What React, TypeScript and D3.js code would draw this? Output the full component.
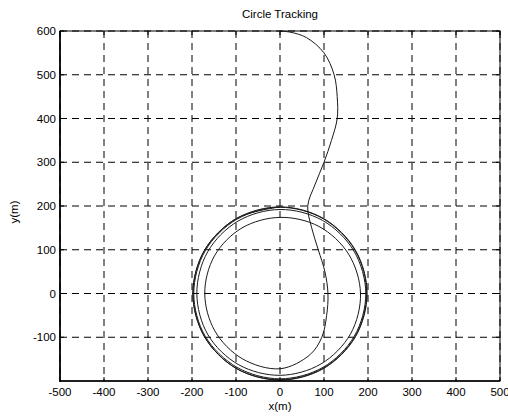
import React, { useEffect, useRef } from "react";
import * as d3 from "d3";

// approach path (metres)
const approachX = [0, 25, 60, 100, 123, 130, 130, 117, 100, 80, 63, 72, 87, 102, 109, 106, 95, 68];
const approachY = [600, 597, 585, 550, 500, 450, 400, 350, 300, 250, 200, 150, 100, 50, 0, -50, -100, -140];

// spiral onto the circle: angle (deg, clockwise from +y) and radius (m)
const spiralAngle = [180, 210, 240, 270, 300, 330, 360, 390, 420, 450, 480, 510, 540, 570, 600, 630, 660, 690, 720, 750, 780, 810, 840, 870, 900, 930, 960, 990, 1020, 1050, 1080, 1110, 1140, 1170, 1200, 1230, 1260, 1290, 1320, 1350, 1380, 1410, 1440, 1470, 1500, 1530, 1560, 1590, 1620, 1650, 1680, 1710, 1740, 1770, 1800];
const spiralRadius = [172, 172, 171, 171, 172, 173, 174, 177, 180, 183, 185, 186, 187, 188, 189, 189, 190, 191, 192, 193, 194, 195, 195, 195, 195, 195, 196, 196, 196, 196, 197, 197, 197, 197, 197, 197, 197, 198, 198, 198, 198, 198, 198, 198, 198, 198, 198, 198, 198, 198, 198, 198, 198, 198, 198];

const xTicks = [-500, -400, -300, -200, -100, 0, 100, 200, 300, 400, 500];
const yTicks = [-100, 0, 100, 200, 300, 400, 500, 600];

const App = () => {
  const ref = useRef<SVGSVGElement>(null);

  useEffect(() => {
    const svg = d3.select(ref.current);
    svg.selectAll("*").remove();

    const left = 60, right = 500, top = 31, bottom = 381;
    const x = d3.scaleLinear().domain([-500, 500]).range([left, right]);
    const y = d3.scaleLinear().domain([-200, 600]).range([bottom, top]);
    const font = "'Liberation Sans', Arial, sans-serif";

    // white plot background
    svg.append("rect").attr("x", left).attr("y", top)
      .attr("width", right - left).attr("height", bottom - top).attr("fill", "#fff");

    // dashed grid
    svg.selectAll(".vgrid").data(xTicks).enter().append("line")
      .attr("x1", (d) => x(d)).attr("x2", (d) => x(d))
      .attr("y1", top).attr("y2", bottom)
      .attr("stroke", "#000").attr("stroke-width", 1)
      .attr("stroke-dasharray", "7,5");
    svg.selectAll(".hgrid").data(yTicks).enter().append("line")
      .attr("y1", (d) => y(d)).attr("y2", (d) => y(d))
      .attr("x1", left).attr("x2", right)
      .attr("stroke", "#000").attr("stroke-width", 1)
      .attr("stroke-dasharray", "7,5");

    // trajectory
    const pts: [number, number][] = approachX.map((v, i) => [v, approachY[i]]);
    spiralAngle.forEach((a, i) => {
      const r = spiralRadius[i];
      const t = (a * Math.PI) / 180;
      pts.push([r * Math.sin(t), r * Math.cos(t)]);
    });
    const line = d3.line<[number, number]>()
      .x((d) => x(d[0]))
      .y((d) => y(d[1]))
      .curve(d3.curveCatmullRom.alpha(0.5));
    svg.append("path").datum(pts)
      .attr("fill", "none").attr("stroke", "#1a1a1a").attr("stroke-width", 1)
      .attr("d", line);

    // box
    svg.append("rect").attr("x", left).attr("y", top)
      .attr("width", right - left).attr("height", bottom - top)
      .attr("fill", "none").attr("stroke", "#000").attr("stroke-width", 1);
    svg.append("line").attr("x1", left).attr("x2", left).attr("y1", top).attr("y2", bottom + 1)
      .attr("stroke", "#000").attr("stroke-width", 1.6);
    svg.append("line").attr("x1", left).attr("x2", right).attr("y1", bottom).attr("y2", bottom)
      .attr("stroke", "#000").attr("stroke-width", 1.6);

    // inward ticks
    const tk = 4;
    xTicks.forEach((d) => {
      svg.append("line").attr("x1", x(d)).attr("x2", x(d)).attr("y1", bottom).attr("y2", bottom - tk).attr("stroke", "#000");
      svg.append("line").attr("x1", x(d)).attr("x2", x(d)).attr("y1", top).attr("y2", top + tk).attr("stroke", "#000");
    });
    yTicks.forEach((d) => {
      svg.append("line").attr("y1", y(d)).attr("y2", y(d)).attr("x1", left).attr("x2", left + tk).attr("stroke", "#000");
      svg.append("line").attr("y1", y(d)).attr("y2", y(d)).attr("x1", right).attr("x2", right - tk).attr("stroke", "#000");
    });

    // tick labels
    svg.selectAll(".xlab").data(xTicks).enter().append("text")
      .text((d) => d)
      .attr("x", (d) => x(d)).attr("y", bottom + 15)
      .attr("text-anchor", "middle")
      .style("font-family", font).style("font-size", "11.5px").attr("fill", "#000");
    svg.selectAll(".ylab").data(yTicks).enter().append("text")
      .text((d) => d)
      .attr("x", left - 4).attr("y", (d) => y(d) + 4)
      .attr("text-anchor", "end")
      .style("font-family", font).style("font-size", "11.5px").attr("fill", "#000");

    // titles
    svg.append("text").text("Circle Tracking")
      .attr("x", (left + right) / 2).attr("y", 18)
      .attr("text-anchor", "middle")
      .style("font-family", font).style("font-size", "11.5px");
    svg.append("text").text("x(m)")
      .attr("x", (left + right) / 2).attr("y", 410)
      .attr("text-anchor", "middle")
      .style("font-family", font).style("font-size", "11.5px");
    svg.append("text").text("y(m)")
      .attr("transform", `translate(18, ${(top + bottom) / 2 + 6}) rotate(-90)`)
      .attr("text-anchor", "middle")
      .style("font-family", font).style("font-size", "11.5px");
  }, []);

  return (
    <svg
      ref={ref}
      width={508}
      height={416}
      style={{ position: "absolute", left: 0, top: 0, background: "#fff" }}
    />
  );
};

export default App;
